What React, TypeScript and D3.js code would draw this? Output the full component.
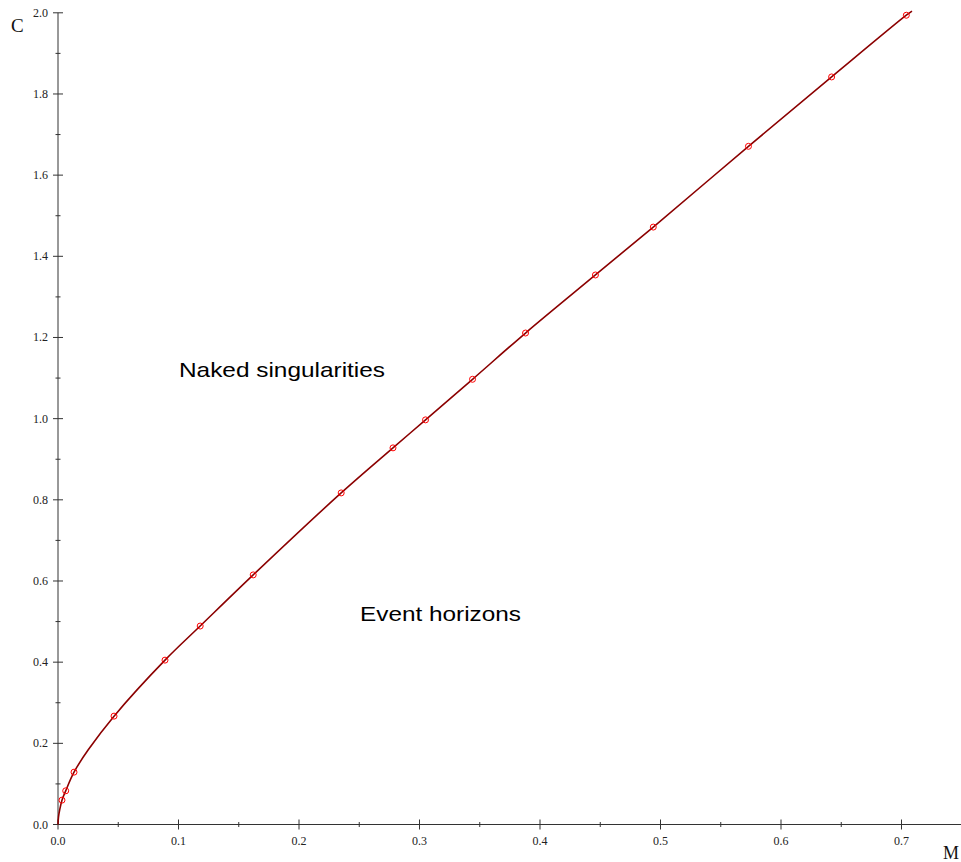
import React from "react";
import * as d3 from "d3";

const pointM = [0.0033, 0.0064, 0.0133, 0.0465, 0.0888, 0.118, 0.162, 0.235, 0.278, 0.305, 0.344, 0.388, 0.446, 0.494, 0.573, 0.642, 0.704];
const pointC = [0.060, 0.083, 0.129, 0.267, 0.405, 0.489, 0.615, 0.817, 0.928, 0.997, 1.097, 1.211, 1.354, 1.472, 1.671, 1.842, 1.994];

const curveM = [0, 0.0004, 0.0014, 0.0033, 0.0064, 0.0133, 0.0251, 0.0465, 0.0888, 0.118, 0.162, 0.235, 0.278, 0.305, 0.344, 0.388, 0.446, 0.494, 0.573, 0.642, 0.704, 0.7087];
const curveC = [0, 0.018, 0.036, 0.060, 0.083, 0.129, 0.184, 0.267, 0.405, 0.489, 0.615, 0.817, 0.928, 0.997, 1.097, 1.211, 1.354, 1.472, 1.671, 1.842, 1.994, 2.004];

const xTicks = [0, 0.1, 0.2, 0.3, 0.4, 0.5, 0.6, 0.7];
const xMinor = [0.05, 0.15, 0.25, 0.35, 0.45, 0.55, 0.65, 0.75];
const yTicks = [0, 0.2, 0.4, 0.6, 0.8, 1.0, 1.2, 1.4, 1.6, 1.8, 2.0];
const yMinor = [0.1, 0.3, 0.5, 0.7, 0.9, 1.1, 1.3, 1.5, 1.7, 1.9];

const W = 961;
const H = 862;

export default function App() {
  const x = d3.scaleLinear().domain([0, 0.1]).range([58, 178.5]);
  const y = d3.scaleLinear().domain([0, 2]).range([824.5, 12.8]);
  const line = d3
    .line<[number, number]>()
    .x((d) => x(d[0]))
    .y((d) => y(d[1]))
    .curve(d3.curveCatmullRom.alpha(0.5));
  const curveData: [number, number][] = curveM.map((m, i) => [m, curveC[i]]);
  const axisColor = "#333";
  const serif = "'Liberation Serif', 'Times New Roman', serif";
  const sans = "'Liberation Sans', Arial, sans-serif";
  return (
    <svg width={W} height={H} style={{ position: "absolute", left: 0, top: 0, background: "#fff" }}>
      {/* axes */}
      <line x1={x(0)} x2={W} y1={y(0)} y2={y(0)} stroke={axisColor} strokeWidth={1} />
      <line x1={x(0)} x2={x(0)} y1={y(0)} y2={y(2)} stroke={axisColor} strokeWidth={1} />
      {xTicks.map((t) => (
        <g key={"xt" + t}>
          <line x1={x(t)} x2={x(t)} y1={y(0) - 5} y2={y(0) + 5} stroke={axisColor} />
          <text x={x(t)} y={y(0) + 20} fontFamily={serif} fontSize={12} textAnchor="middle" fill="#222">
            {t.toFixed(1)}
          </text>
        </g>
      ))}
      {xMinor.map((t) => (
        <line key={"xm" + t} x1={x(t)} x2={x(t)} y1={y(0) - 2.5} y2={y(0) + 2.5} stroke={axisColor} />
      ))}
      {yTicks.map((t) => (
        <g key={"yt" + t}>
          <line x1={x(0) - 5} x2={x(0) + 5} y1={y(t)} y2={y(t)} stroke={axisColor} />
          <text x={x(0) - 10} y={y(t) + 4} fontFamily={serif} fontSize={12} textAnchor="end" fill="#222">
            {t.toFixed(1)}
          </text>
        </g>
      ))}
      {yMinor.map((t) => (
        <line key={"ym" + t} x1={x(0) - 2.5} x2={x(0) + 2.5} y1={y(t)} y2={y(t)} stroke={axisColor} />
      ))}
      <text x={11} y={32} fontFamily={serif} fontSize={19} fill="#111">C</text>
      <text x={959} y={859} fontFamily={serif} fontSize={18} textAnchor="end" fill="#111">M</text>
      {/* curve */}
      <path d={line(curveData) || ""} fill="none" stroke="#8b0000" strokeWidth={1.6} />
      {pointM.map((m, i) => (
        <circle key={"p" + i} cx={x(m)} cy={y(pointC[i])} r={3} fill="none" stroke="#ff0000" strokeWidth={1} />
      ))}
      <text x={179} y={377} fontFamily={sans} fontSize={21} textLength={206} lengthAdjust="spacingAndGlyphs" fill="#000">
        Naked singularities
      </text>
      <text x={360} y={621} fontFamily={sans} fontSize={21} textLength={161} lengthAdjust="spacingAndGlyphs" fill="#000">
        Event horizons
      </text>
    </svg>
  );
}
